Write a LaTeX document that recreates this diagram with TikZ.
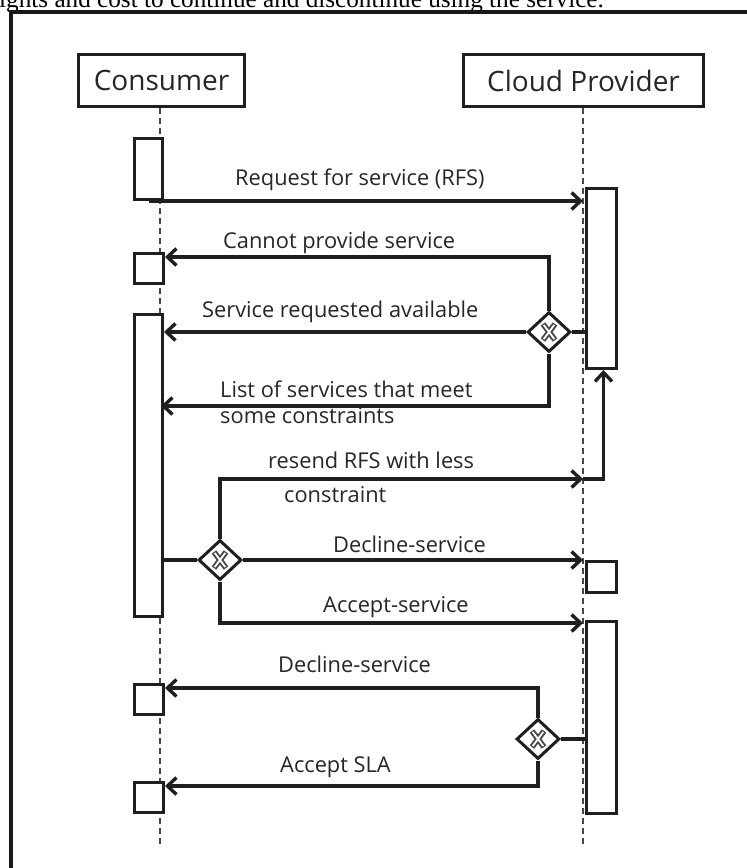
\documentclass[tikz,border=0pt]{standalone}
\usepackage{fontspec}
\setmainfont{Open Sans}
\newfontfamily\capserif{Liberation Serif}
\usetikzlibrary{arrows.meta,shapes.geometric}

\tikzset{
  lanehead/.style={draw=black!88, line width=3pt, fill=white, minimum height=52, inner sep=0,
    font=\fontsize{28}{32}\selectfont, text=black!85},
  lifeline/.style={draw=black!72, line width=1.2pt, dash pattern=on 6pt off 4pt},
  actbar/.style={draw=black!88, line width=3pt, fill=white, inner sep=0, anchor=north west},
  msg/.style={draw=black!88, line width=3.6pt,
    -{Straight Barb[length=9pt,width=17pt,line width=3.4pt]}},
  flow/.style={draw=black!88, line width=3.6pt},
  gate/.style={diamond, draw=black!88, line width=3pt, fill=white,
    minimum width=43, minimum height=40, inner sep=0},
  lbl/.style={anchor=base west, inner sep=0, font=\fontsize{21.8}{26}\selectfont, text=black!85},
}

% exclusive-gateway cross drawn as a hollow X
\newcommand{\gatecross}[1]{%
  \draw[black!72, line width=5.6pt] ([shift={(-6,-8)}]#1.center) -- ([shift={(6,8)}]#1.center)
        ([shift={(6,-8)}]#1.center) -- ([shift={(-6,8)}]#1.center);
  \draw[white, line width=1.8pt] ([shift={(-5.2,-7)}]#1.center) -- ([shift={(5.2,7)}]#1.center)
        ([shift={(5.2,-7)}]#1.center) -- ([shift={(-5.2,7)}]#1.center);
}

\begin{document}
\begin{tikzpicture}[x=1pt,y=-1pt]
\useasboundingbox (0,0) rectangle (747,868);
\clip (0,0) rectangle (747,868);

% caption line above the frame
\node[anchor=base west, inner sep=0, font=\capserif\fontsize{25.2}{29}\selectfont, text=black]
  (caption) at (-1,7) {ights and cost to continue and discontinue using the service.};

% frame
\draw[line width=4pt, black!90] (11,875) -- (11,12) -- (755,12);

% participants
\node[lanehead, minimum width=166, anchor=north west] (consumer) at (77,53) {Consumer};
\node[lanehead, minimum width=240, anchor=north west] (provider) at (462,53) {Cloud Provider};

% lifelines
\coordinate (cend) at (160,845);
\coordinate (pend) at (583,845);
\draw[lifeline] (consumer.south -| cend) -- (cend);
\draw[lifeline] (provider.south -| pend) -- (pend);

% activation bars, consumer side
\node[actbar, minimum width=28, minimum height=61]  (cb1) at (133,137) {};
\node[actbar, minimum width=29, minimum height=30]  (cb2) at (133,252) {};
\node[actbar, minimum width=28, minimum height=302] (cb3) at (133,313) {};
\node[actbar, minimum width=29, minimum height=30]  (cb4) at (133,683) {};
\node[actbar, minimum width=29, minimum height=30]  (cb5) at (133,781) {};

% activation bars, provider side
\node[actbar, minimum width=30, minimum height=180] (pb1) at (585,187) {};
\node[actbar, minimum width=30, minimum height=31]  (pb2) at (585,560) {};
\node[actbar, minimum width=30, minimum height=192] (pb3) at (585,620) {};

% gateways
\node[gate] (g1) at (549,332) {};
\node[gate] (g2) at (220,560) {};
\node[gate] (g3) at (538,739) {};
\gatecross{g1}
\gatecross{g2}
\gatecross{g3}

% turning points
\coordinate (listend) at (161,406);
\coordinate (resend) at (583,479);

% messages
\draw[msg] (cb1.south) -- (cb1.south -| pend);
\draw[msg] (g1.north) |- ([yshift=-5pt]cb2.north east);
\draw[msg] (g1.west) -- (g1.west -| cb3.east);
\draw[msg] (g1.south) |- (listend);
\draw[flow] (g1.east) -- (g1.east -| pb1.west);

\draw[flow] (cb3.east |- g2.west) -- (g2.west);
\draw[msg] (g2.north) |- (resend);
\draw[msg] (resend) -| ([xshift=2pt]pb1.south);
\draw[msg] (g2.east) -- (g2.east -| pend);
\draw[msg] (g2.south) |- ([yshift=-3pt]pb3.north west -| pend);

\draw[flow] (pb3.west |- g3.east) -- (g3.east);
\draw[msg] (g3.north) |- ([yshift=-5pt]cb4.north east);
\draw[msg] (g3.south) |- ([yshift=-5pt]cb5.north east);

% message labels
\node[lbl] (l1) at (235,185) {Request for service (RFS)};
\node[lbl] (l2) at (223,248) {Cannot provide service};
\node[lbl] (l3) at (202,317) {Service requested available};
\node[lbl] (l4) at (220,397) {List of services that meet};
\node[lbl] (l4b) at (220,423) {some constraints};
\node[lbl] (l5) at (268,468) {resend RFS with less};
\node[lbl] (l5b) at (284,502) {constraint};
\node[lbl] (l6) at (333,552) {Decline-service};
\node[lbl] (l7) at (323,612) {Accept-service};
\node[lbl] (l8) at (278,672) {Decline-service};
\node[lbl] (l9) at (280,772) {Accept SLA};
\end{tikzpicture}
\end{document}
